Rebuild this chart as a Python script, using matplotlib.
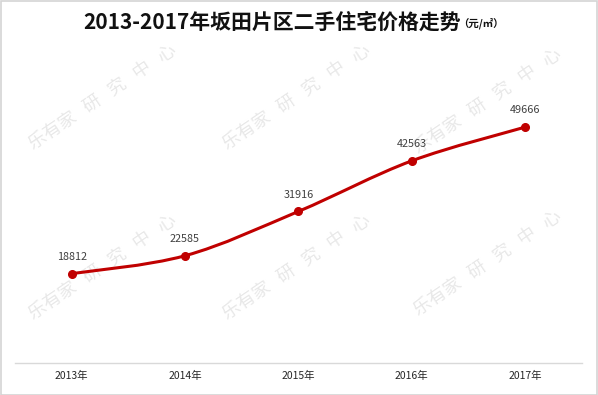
#plot.py

import matplotlib.pyplot as plt
from matplotlib.path import Path
from matplotlib.patches import PathPatch, Rectangle

plt.rcParams['font.family'] = ['Noto Sans CJK SC', 'DejaVu Sans']

years = ["2013年", "2014年", "2015年", "2016年", "2017年"]
prices = [18812, 22585, 31916, 42563, 49666]

title = "2013-2017年坂田片区二手住宅价格走势"
unit = "（元/㎡）"
watermark = "乐有家   研   究   中   心"

red = "#c00000"

fig = plt.figure(figsize=(5.98, 3.95), dpi=100)
ax = fig.add_axes([0.025, 0.081, 0.948, 0.7215])
ax.set_facecolor("none")

# smooth line through the points (catmull-rom style bezier, like excel)
xs = list(range(len(prices)))
pts = list(zip(xs, prices))
verts = [pts[0]]
codes = [Path.MOVETO]
for i in range(len(pts) - 1):
    p0 = pts[i - 1] if i > 0 else pts[i]
    p1 = pts[i]
    p2 = pts[i + 1]
    p3 = pts[i + 2] if i + 2 < len(pts) else pts[i + 1]
    c1 = (p1[0] + (p2[0] - p0[0]) / 6, p1[1] + (p2[1] - p0[1]) / 6)
    c2 = (p2[0] - (p3[0] - p1[0]) / 6, p2[1] - (p3[1] - p1[1]) / 6)
    verts += [c1, c2, p2]
    codes += [Path.CURVE4] * 3
ax.add_patch(PathPatch(Path(verts, codes), facecolor="none", edgecolor=red,
                       lw=2.2, capstyle="round", zorder=3))
ax.plot(xs, prices, "o", color=red, markersize=5.5, zorder=4)

for x, v in zip(xs, prices):
    ax.annotate(str(v), (x, v), xytext=(0, 8.5), textcoords="offset points",
                ha="center", va="bottom", fontsize=7.8, color="#404040")

ax.set_xlim(-0.5, len(prices) - 0.5)
ax.set_ylim(0, 60000)
ax.set_xticks(xs)
ax.set_xticklabels(years, fontsize=7.5, color="#262626")
ax.set_yticks([])
ax.tick_params(axis="x", length=0, pad=6)
for s in ["top", "left", "right"]:
    ax.spines[s].set_visible(False)
ax.spines["bottom"].set_color("#d9d9d9")
ax.spines["bottom"].set_linewidth(1)

# title
fig.text(0.455, 0.944, title, ha="center", va="center", fontsize=15,
         fontweight="bold", color="#111111")
fig.text(0.766, 0.940, unit, ha="left", va="center", fontsize=7.5,
         fontweight="bold", color="#111111")

# watermarks
for wx, wy in [(0.055, 0.62), (0.38, 0.62), (0.70, 0.61),
               (0.055, 0.19), (0.38, 0.19), (0.70, 0.20)]:
    fig.text(wx, wy, watermark, rotation=34, rotation_mode="anchor",
             ha="left", va="baseline", fontsize=13,
             color="#e8e8e8", zorder=-1)

# light frame around the picture
fig.add_artist(Rectangle((0.001, 0.001), 0.997, 0.997, transform=fig.transFigure,
                         fill=False, edgecolor="#d4d4d4", lw=1.2))

fig.savefig("out.png", dpi=100)
